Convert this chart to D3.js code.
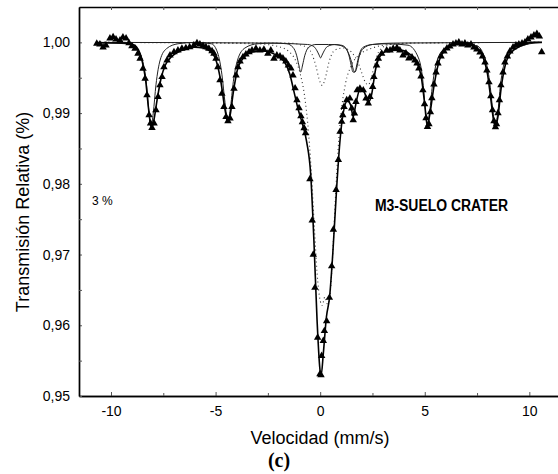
<!DOCTYPE html>
<html>
<head>
  <title>M3-Suelo Crater</title>
  <script type="text/javascript" src="https://d3js.org/d3.v7.min.js"></script>
  <style>
    body { margin: 0; background: #fff; }
    text { font-family: "Liberation Sans", Arial, sans-serif; fill: #000; }
  </style>
</head>
<body>
<div class="chart"></div>

<script type="text/javascript">

    // measured spectrum (velocity mm/s, relative transmission)
    const vel = [-10.68,-10.53,-10.38,-10.24,-10.05,-9.90,-9.76,-9.57,-9.43,-9.28,-9.14,-9.00,-8.85,-8.71,-8.61,-8.47,-8.37,-8.28,-8.18,-8.11,-8.04,-7.94,-7.85,-7.75,-7.66,-7.56,-7.47,-7.32,-7.18,-6.99,-6.80,-6.61,-6.42,-6.24,-6.04,-5.89,-5.75,-5.60,-5.46,-5.32,-5.17,-5.08,-4.98,-4.89,-4.79,-4.70,-4.60,-4.50,-4.41,-4.31,-4.22,-4.12,-4.02,-3.93,-3.83,-3.69,-3.55,-3.40,-3.26,-3.07,-2.88,-2.69,-2.50,-2.36,-2.21,-2.07,-1.92,-1.78,-1.64,-1.52,-1.40,-1.30,-1.20,-1.11,-1.01,-0.92,-0.85,-0.77,-0.70,-0.49,-0.38,-0.33,-0.25,-0.12,-0.01,0.04,0.07,0.15,0.20,0.31,0.44,0.55,0.63,0.76,0.87,0.95,1.03,1.08,1.14,1.27,1.42,1.51,1.58,1.64,1.71,1.77,1.90,2.06,2.19,2.30,2.38,2.51,2.57,2.70,2.78,2.94,3.18,3.34,3.49,3.67,3.81,3.96,4.10,4.24,4.39,4.53,4.63,4.72,4.82,4.91,4.99,5.06,5.13,5.20,5.27,5.34,5.44,5.54,5.63,5.78,5.92,6.06,6.20,6.35,6.49,6.63,6.78,6.92,7.06,7.21,7.35,7.49,7.64,7.76,7.88,7.97,8.07,8.16,8.24,8.31,8.38,8.43,8.50,8.57,8.64,8.74,8.83,8.95,9.07,9.22,9.36,9.50,9.65,9.79,9.93,10.08,10.22,10.36,10.48,10.59];
    const trans = [0.99982,0.99972,0.99930,0.99958,1.00056,1.00075,1.00042,1.00028,1.00070,1.00056,0.99990,0.99948,0.99911,0.99841,0.99770,0.99630,0.99489,0.99254,0.98972,0.98855,0.98793,0.98855,0.99042,0.99230,0.99394,0.99511,0.99652,0.99746,0.99817,0.99863,0.99887,0.99911,0.99920,0.99934,0.99958,0.99990,0.99972,0.99953,0.99934,0.99911,0.99878,0.99841,0.99770,0.99652,0.99465,0.99277,0.99089,0.98948,0.98887,0.98925,0.99089,0.99348,0.99535,0.99652,0.99732,0.99793,0.99831,0.99863,0.99887,0.99911,0.99887,0.99897,0.99841,0.99887,0.99770,0.99817,0.99803,0.99775,0.99732,0.99676,0.99634,0.99535,0.99352,0.99183,0.99070,0.98958,0.98873,0.98789,0.98718,0.98066,0.97483,0.97000,0.96531,0.95827,0.95310,0.95296,0.95568,0.95779,0.95920,0.96060,0.96390,0.96835,0.97352,0.97915,0.98338,0.98737,0.98878,0.98972,0.99089,0.99183,0.99207,0.99066,0.98901,0.98996,0.99159,0.99324,0.99348,0.99324,0.99207,0.99137,0.99230,0.99370,0.99511,0.99676,0.99770,0.99841,0.99887,0.99887,0.99911,0.99923,0.99887,0.99817,0.99845,0.99775,0.99789,0.99746,0.99704,0.99634,0.99521,0.99324,0.99127,0.98930,0.98807,0.98845,0.99014,0.99211,0.99408,0.99577,0.99704,0.99803,0.99873,0.99915,0.99944,0.99972,0.99986,1.00000,0.99972,0.99986,0.99958,0.99972,0.99930,0.99901,0.99859,0.99803,0.99718,0.99606,0.99437,0.99239,0.99042,0.98887,0.98803,0.98845,0.99000,0.99183,0.99394,0.99577,0.99718,0.99803,0.99873,0.99930,0.99958,0.99972,0.99986,1.00000,1.00042,1.00070,1.00099,1.00120,1.00085,0.99863];

    // total fit
    const fitVel = [-10.7,-9.5,-9.0,-8.7,-8.5,-8.35,-8.2,-8.08,-7.95,-7.8,-7.6,-7.4,-7.1,-6.6,-6.0,-5.6,-5.2,-4.95,-4.75,-4.55,-4.42,-4.3,-4.15,-3.95,-3.7,-3.3,-2.8,-2.4,-2.0,-1.7,-1.45,-1.25,-1.05,-0.85,-0.65,-0.45,-0.3,-0.15,0.0,0.05,0.15,0.3,0.45,0.6,0.8,0.95,1.1,1.3,1.45,1.58,1.7,1.9,2.1,2.3,2.45,2.65,2.9,3.3,3.8,4.3,4.6,4.85,5.0,5.12,5.25,5.45,5.7,6.0,6.5,7.0,7.5,7.8,8.0,8.15,8.3,8.38,8.5,8.65,8.85,9.1,9.6,10.2,10.6];
    const fitTrans = [0.99995,0.9999,0.99975,0.9990,0.9972,0.9948,0.9905,0.9880,0.9890,0.9918,0.9950,0.9968,0.9980,0.9989,0.9993,0.9992,0.9986,0.9972,0.9945,0.9905,0.9888,0.9898,0.9930,0.9962,0.9977,0.9986,0.9988,0.9986,0.9980,0.9972,0.9955,0.9930,0.9905,0.9885,0.9860,0.9812,0.9720,0.9608,0.9535,0.9530,0.9560,0.9612,0.9640,0.9700,0.9800,0.9862,0.9900,0.9917,0.9912,0.9895,0.9912,0.9933,0.9930,0.9915,0.9925,0.9962,0.9982,0.99885,0.9989,0.9983,0.9973,0.9948,0.9912,0.9882,0.9900,0.9940,0.9975,0.9990,0.99975,0.99975,0.9991,0.9978,0.9955,0.9922,0.9888,0.9881,0.9895,0.9935,0.9968,0.9985,0.9995,1.0,1.0];

    // magnetic sextet (solid)
    const sexVel = [-10.7,-9.3,-8.8,-8.5,-8.3,-8.18,-8.08,-7.98,-7.85,-7.65,-7.35,-6.8,-6.0,-5.2,-4.9,-4.7,-4.55,-4.42,-4.3,-4.15,-3.95,-3.6,-3.0,-2.2,-1.6,-1.3,-1.12,-1.02,-0.93,-0.84,-0.74,-0.55,-0.2,0.4,1.0,1.2,1.38,1.48,1.57,1.66,1.75,1.85,2.05,2.5,3.2,4.2,4.7,4.9,5.02,5.12,5.22,5.35,5.55,5.9,6.6,7.5,7.9,8.1,8.25,8.37,8.49,8.62,8.85,9.3,10.6];
    const sexTrans = [1.0,0.9998,0.9992,0.9975,0.9940,0.9900,0.9881,0.9900,0.9940,0.9975,0.9991,0.9998,1.0,0.9998,0.9985,0.9955,0.9915,0.9888,0.9905,0.9945,0.9975,0.9992,0.9998,0.9999,0.9998,0.9993,0.9981,0.9968,0.9958,0.9968,0.9981,0.9993,0.9997,0.9997,0.9996,0.9993,0.9981,0.9968,0.9958,0.9958,0.9968,0.9981,0.9993,0.9997,0.9998,0.9996,0.9978,0.9948,0.9908,0.9885,0.9898,0.9935,0.9970,0.9990,0.9998,0.9995,0.9975,0.9945,0.9905,0.9883,0.9900,0.9940,0.9975,0.9993,1.0];

    // second solid component
    const sub2Vel = [-10.7,-2.5,-0.6,-0.3,-0.15,-0.05,0.02,0.09,0.19,0.34,0.7,1.1,1.35,1.5,1.58,1.66,1.75,1.85,2.05,2.5,3.5,10.6];
    const sub2Trans = [1.0,0.9999,0.9997,0.9994,0.9988,0.9982,0.9978,0.9982,0.9988,0.9994,0.9997,0.9994,0.9985,0.9972,0.9962,0.9958,0.9964,0.9978,0.9991,0.9997,0.9999,1.0];

    // Fe3+ doublet (dotted)
    const dbl1Vel = [-10.7,-3.0,-2.0,-1.5,-1.2,-0.95,-0.75,-0.55,-0.4,-0.28,-0.15,0.0,0.1,0.22,0.35,0.45,0.58,0.72,0.86,1.0,1.2,1.5,1.9,2.5,3.3,4.5,10.6];
    const dbl1Trans = [1.0,0.9998,0.9994,0.9987,0.9976,0.9955,0.9925,0.9870,0.9805,0.9740,0.9675,0.9635,0.9628,0.9640,0.9630,0.9638,0.9690,0.9775,0.9850,0.9900,0.9940,0.9968,0.9983,0.9992,0.9997,0.9999,1.0];

    // Fe2+ doublet (dotted)
    const dbl2Vel = [-10.7,-1.5,-0.7,-0.4,-0.2,-0.05,0.1,0.25,0.42,0.7,1.1,1.5,1.8,2.0,2.15,2.3,2.45,2.62,2.85,3.3,4.5,10.6];
    const dbl2Trans = [1.0,0.9999,0.9994,0.9984,0.9966,0.9948,0.9939,0.9950,0.9972,0.9989,0.9992,0.9986,0.9972,0.9956,0.9944,0.9940,0.9950,0.9972,0.9989,0.9997,0.9999,1.0];

    const xTicks = [-10, -5, 0, 5, 10];
    const xMinor = [-7.5, -2.5, 2.5, 7.5];
    const yTicks = [0.95, 0.96, 0.97, 0.98, 0.99, 1.00];
    const yTickLabels = ["0,95", "0,96", "0,97", "0,98", "0,99", "1,00"];
    const yMinor = [0.955, 0.965, 0.975, 0.985, 0.995];

    const margin = {top: 7, right: 0, bottom: 78, left: 79},
        width = 558 - margin.left - margin.right,
        height = 474 - margin.top - margin.bottom;

    const svg = d3.select(".chart").append("svg")
        .attr("width", 558)
        .attr("height", 474)
        .append("g")
        .attr("transform", "translate(" + margin.left + "," + margin.top + ")");

    const xScale = d3.scaleLinear()
        .domain([-11.53, 11.37])
        .range([0, width]);

    const yScale = d3.scaleLinear()
        .domain([0.95, 1.005])
        .range([height, 0]);

    // axes
    const xAxis = d3.axisBottom(xScale)
        .tickValues(xTicks)
        .tickSizeInner(-4)
        .tickSizeOuter(0)
        .tickPadding(10)
        .tickFormat(d => d);

    svg.append("g")
        .attr("transform", "translate(0," + height + ")")
        .call(xAxis);

    svg.append("g")
        .attr("transform", "translate(0," + height + ")")
        .call(d3.axisBottom(xScale).tickValues(xMinor).tickSizeInner(-3).tickSizeOuter(0).tickFormat(""));

    svg.append("g")
        .call(d3.axisTop(xScale).tickValues(xTicks.concat(xMinor)).tickSizeInner(-3).tickSizeOuter(0).tickFormat(""));

    const yAxis = d3.axisLeft(yScale)
        .tickValues(yTicks)
        .tickSizeInner(-3)
        .tickSizeOuter(0)
        .tickPadding(9)
        .tickFormat((d, i) => yTickLabels[i]);

    svg.append("g").call(yAxis);

    svg.append("g")
        .call(d3.axisLeft(yScale).tickValues(yMinor).tickSizeInner(-3).tickSizeOuter(0).tickFormat(""));

    svg.selectAll(".domain")
        .attr("stroke", "#000")
        .attr("stroke-width", 1.4);
    svg.selectAll(".tick line").attr("stroke", "#555");
    svg.selectAll(".tick text")
        .style("font-size", "14px")
        .style("font-family", "'Liberation Sans', Arial, sans-serif");

    // curves
    const line = d3.line()
        .x(d => xScale(d[0]))
        .y(d => yScale(d[1]))
        .curve(d3.curveMonotoneX);

    const zipped = (a, b) => a.map((v, i) => [v, b[i]]);

    svg.append("path")
        .datum(zipped(dbl1Vel, dbl1Trans))
        .attr("d", line)
        .attr("fill", "none")
        .attr("stroke", "#333")
        .attr("stroke-width", 1.1)
        .attr("stroke-dasharray", "1,3");

    svg.append("path")
        .datum(zipped(dbl2Vel, dbl2Trans))
        .attr("d", line)
        .attr("fill", "none")
        .attr("stroke", "#333")
        .attr("stroke-width", 1.1)
        .attr("stroke-dasharray", "1,3");

    svg.append("path")
        .datum(zipped(sexVel, sexTrans))
        .attr("d", line)
        .attr("fill", "none")
        .attr("stroke", "#222")
        .attr("stroke-width", 1);

    svg.append("path")
        .datum(zipped(sub2Vel, sub2Trans))
        .attr("d", line)
        .attr("fill", "none")
        .attr("stroke", "#222")
        .attr("stroke-width", 1);

    svg.append("path")
        .datum(zipped(fitVel, fitTrans))
        .attr("d", line)
        .attr("fill", "none")
        .attr("stroke", "#000")
        .attr("stroke-width", 1.6);

    // data triangles
    svg.selectAll(".pt")
        .data(zipped(vel, trans))
        .enter()
        .append("path")
        .attr("class", "pt")
        .attr("transform", d => "translate(" + xScale(d[0]) + "," + yScale(d[1]) + ")")
        .attr("d", d3.symbol().type(d3.symbolTriangle).size(24))
        .attr("fill", "#000");

    // texts
    svg.append("text")
        .attr("x", 92 - margin.left)
        .attr("y", 205 - margin.top)
        .style("font-size", "12px")
        .text("3 %");

    svg.append("text")
        .attr("x", 375 - margin.left)
        .attr("y", 211 - margin.top)
        .attr("textLength", 133)
        .attr("lengthAdjust", "spacingAndGlyphs")
        .style("font-size", "16px")
        .style("font-weight", "bold")
        .text("M3-SUELO CRATER");

    svg.append("text")
        .attr("text-anchor", "middle")
        .attr("x", 320 - margin.left)
        .attr("y", 444 - margin.top)
        .style("font-size", "18px")
        .text("Velocidad (mm/s)");

    svg.append("text")
        .attr("text-anchor", "middle")
        .attr("transform", "translate(" + (29 - margin.left) + "," + (212 - margin.top) + ") rotate(-90)")
        .style("font-size", "18px")
        .text("Transmisión Relativa (%)");

    svg.append("text")
        .attr("text-anchor", "middle")
        .attr("x", 279 - margin.left)
        .attr("y", 467 - margin.top)
        .style("font-size", "20px")
        .style("font-weight", "bold")
        .style("font-family", "'Liberation Serif', 'Times New Roman', serif")
        .text("(c)");

</script>
</body>
</html>
